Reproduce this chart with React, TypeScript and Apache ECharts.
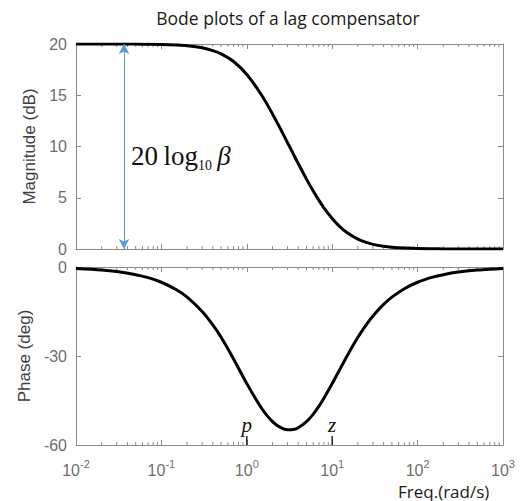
import React, { useEffect, useRef } from "react";
import * as echarts from "echarts";

const freq = [0.01, 0.02, 0.03, 0.05, 0.07, 0.1, 0.15, 0.2, 0.3, 0.4, 0.5, 0.7, 1, 1.5, 2, 2.5, 3, 3.5, 4, 5, 6, 7, 8, 10, 12, 15, 20, 25, 30, 40, 50, 70, 100, 150, 200, 300, 500, 700, 1000];
// Magnitude (dB)
const magnitudeDb = [20.0, 20.0, 20.0, 19.99, 19.98, 19.96, 19.9, 19.83, 19.63, 19.36, 19.04, 18.29, 17.03, 14.98, 13.18, 11.66, 10.37, 9.28, 8.34, 6.82, 5.65, 4.74, 4.02, 2.97, 2.26, 1.58, 0.96, 0.64, 0.45, 0.26, 0.17, 0.09, 0.04, 0.02, 0.01, 0.005, 0.002, 0.001, 0.0];
// Phase (deg)
const phaseDeg = [-0.52, -1.03, -1.55, -2.58, -3.6, -5.14, -7.67, -10.16, -14.98, -19.51, -23.7, -30.99, -39.29, -47.78, -52.12, -54.16, -54.87, -54.76, -54.16, -52.12, -49.58, -46.88, -44.21, -39.29, -35.05, -29.88, -23.7, -19.51, -16.52, -12.61, -10.16, -7.31, -5.14, -3.43, -2.58, -1.72, -1.03, -0.74, -0.52];

const xMin = 0.01;
const xMax = 1000;
const magTicks = { min: 0, max: 20, interval: 5 };
const phaseTicks = { min: -60, max: 0, interval: 30 };

const decades = [0.01, 0.1, 1, 10, 100];
const minorMultipliers = [2, 3, 4, 5, 6, 7, 8, 9];

// annotation: the 20log10(beta) double arrow
const arrowFreq = 0.0365;
const arrowFrom = 20;
const arrowTo = 0;

// pole / zero markers
const markerNames = ["p", "z"];
const markerFreqs = [1, 10];

const titleText = "Bode plots of a lag compensator";
const xName = "Freq.(rad/s)";
const magName = "Magnitude (dB)";
const phaseName = "Phase (deg)";

const AXIS_COLOR = "#8a8a8a";
const LABEL_COLOR = "#6e6e6e";
const NAME_COLOR = "#404040";
const SANS = "Arial, 'Liberation Sans', sans-serif";
const SERIF = "'Times New Roman', 'Liberation Serif', serif";

export default function App() {
  const ref = useRef<HTMLDivElement>(null);

  useEffect(() => {
    if (!ref.current) return;
    const chart = echarts.init(ref.current, undefined, { renderer: "svg" });

    const minorTicks: number[] = [];
    decades.forEach((d) => minorMultipliers.forEach((m) => minorTicks.push(d * m)));

    const xLabel = {
      show: true,
      margin: 13,
      showMinLabel: true,
      showMaxLabel: true,
      hideOverlap: false,
      formatter: (v: number) => `{b|10}{s|${Math.round(Math.log10(v))}}`,
      rich: {
        b: { fontSize: 16, color: LABEL_COLOR, fontFamily: SANS, verticalAlign: "bottom" },
        s: { fontSize: 11, color: LABEL_COLOR, fontFamily: SANS, verticalAlign: "bottom", padding: [0, 0, 9, 0] },
      },
    };

    const baseX = (gridIndex: number, position: string, withLabels: boolean) => ({
      type: "log",
      logBase: 10,
      gridIndex,
      position,
      min: xMin,
      max: xMax,
      splitNumber: 5,
      axisLine: { show: true, onZero: false, lineStyle: { color: AXIS_COLOR, width: 1 } },
      axisTick: { show: true, inside: true, length: 5, lineStyle: { color: AXIS_COLOR } },
      axisLabel: withLabels ? xLabel : { show: false },
      splitLine: { show: false },
      minorTick: { show: false },
    });

    const baseY = (gridIndex: number, position: string, ticks: any, name?: string) => ({
      type: "value",
      gridIndex,
      position,
      min: ticks.min,
      max: ticks.max,
      interval: ticks.interval,
      name: name || "",
      nameLocation: "middle",
      nameGap: 36,
      nameTextStyle: { fontSize: 17, color: NAME_COLOR, fontFamily: SANS },
      axisLine: { show: true, onZero: false, lineStyle: { color: AXIS_COLOR, width: 1 } },
      axisTick: { show: true, inside: true, length: 5, lineStyle: { color: AXIS_COLOR } },
      axisLabel: name
        ? { show: true, margin: 9, fontSize: 16, color: LABEL_COLOR, fontFamily: SANS }
        : { show: false },
      splitLine: { show: false },
    });

    const minorTickSeries = (xAxisIndex: number, yAxisIndex: number, yVal: number) => ({
      type: "custom",
      xAxisIndex,
      yAxisIndex,
      silent: true,
      clip: false,
      z: 1,
      data: minorTicks.map((v) => [v, yVal]),
      renderItem: (params: any, api: any) => {
        const x = api.coord([api.value(0), api.value(1)])[0];
        const cs = params.coordSys;
        const st = { stroke: AXIS_COLOR, lineWidth: 1 };
        return {
          type: "group",
          children: [
            { type: "line", shape: { x1: x, y1: cs.y + cs.height, x2: x, y2: cs.y + cs.height - 3 }, style: st },
            { type: "line", shape: { x1: x, y1: cs.y, x2: x, y2: cs.y + 3 }, style: st },
          ],
        };
      },
    });

    const option: any = {
      animation: false,
      grid: [
        { left: 76, top: 44, width: 427, height: 205 },
        { left: 76, top: 267, width: 427, height: 178 },
      ],
      xAxis: [baseX(0, "bottom", false), baseX(0, "top", false), baseX(1, "bottom", true), baseX(1, "top", false)],
      yAxis: [
        baseY(0, "left", magTicks, magName),
        baseY(0, "right", magTicks),
        baseY(1, "left", phaseTicks, phaseName),
        baseY(1, "right", phaseTicks),
      ],
      series: [
        minorTickSeries(0, 0, magTicks.min),
        minorTickSeries(2, 2, phaseTicks.min),
        {
          type: "line",
          name: "Magnitude",
          xAxisIndex: 0,
          yAxisIndex: 0,
          data: freq.map((f, i) => [f, magnitudeDb[i]]),
          showSymbol: false,
          smooth: 0.3,
          z: 3,
          lineStyle: { color: "#000", width: 3 },
          markLine: {
            silent: true,
            symbol: ["arrow", "arrow"],
            symbolSize: [8, 10],
            label: { show: false },
            lineStyle: { color: "#5b9bd5", width: 1, type: "solid" },
            data: [[{ coord: [arrowFreq, arrowFrom] }, { coord: [arrowFreq, arrowTo] }]],
          },
        },
        {
          type: "line",
          name: "Phase",
          xAxisIndex: 2,
          yAxisIndex: 2,
          data: freq.map((f, i) => [f, phaseDeg[i]]),
          showSymbol: false,
          smooth: 0.3,
          z: 3,
          lineStyle: { color: "#000", width: 3 },
        },
        {
          type: "custom",
          xAxisIndex: 2,
          yAxisIndex: 2,
          silent: true,
          clip: false,
          z: 4,
          data: markerFreqs.map((f) => [f, phaseTicks.min]),
          renderItem: (params: any, api: any) => {
            const pt = api.coord([api.value(0), api.value(1)]);
            return {
              type: "group",
              children: [
                { type: "line", shape: { x1: pt[0], y1: pt[1], x2: pt[0], y2: pt[1] - 9 }, style: { stroke: "#222", lineWidth: 1.5 } },
                {
                  type: "text",
                  x: pt[0],
                  y: pt[1] - 10,
                  style: {
                    text: markerNames[params.dataIndex],
                    fontSize: 21,
                    fontStyle: "italic",
                    fontFamily: SERIF,
                    fill: "#111",
                    align: "center",
                    verticalAlign: "bottom",
                  },
                },
              ],
            };
          },
        },
      ],
      graphic: [
        {
          type: "text",
          x: 288,
          y: 18,
          style: { text: titleText, fontSize: 17.5, fontFamily: "'Open Sans', sans-serif", fill: "#1a1a1a", align: "center", verticalAlign: "middle" },
        },
        {
          type: "text",
          x: 398,
          y: 491,
          style: { text: xName, fontSize: 17, fontFamily: "'Open Sans', sans-serif", fill: "#1a1a1a", align: "left", verticalAlign: "middle" },
        },
        {
          type: "text",
          x: 131,
          y: 157,
          style: {
            text: "{a|20\u2009log}{b|10}{c|\u2009β}",
            align: "left",
            verticalAlign: "middle",
            rich: {
              a: { fontSize: 27, fontFamily: SERIF, fill: "#111", verticalAlign: "bottom", padding: [0, 0, 3, 0] },
              b: { fontSize: 14, fontFamily: SERIF, fill: "#111", verticalAlign: "bottom" },
              c: { fontSize: 27, fontFamily: SERIF, fontStyle: "italic", fill: "#111", verticalAlign: "bottom", padding: [0, 0, 3, 0] },
            },
          },
        },
      ],
    };

    chart.setOption(option);
    return () => chart.dispose();
  }, []);

  return (
    <div
      ref={ref}
      style={{ position: "fixed", left: 0, top: 0, width: 520, height: 501, background: "#fff" }}
    />
  );
}
